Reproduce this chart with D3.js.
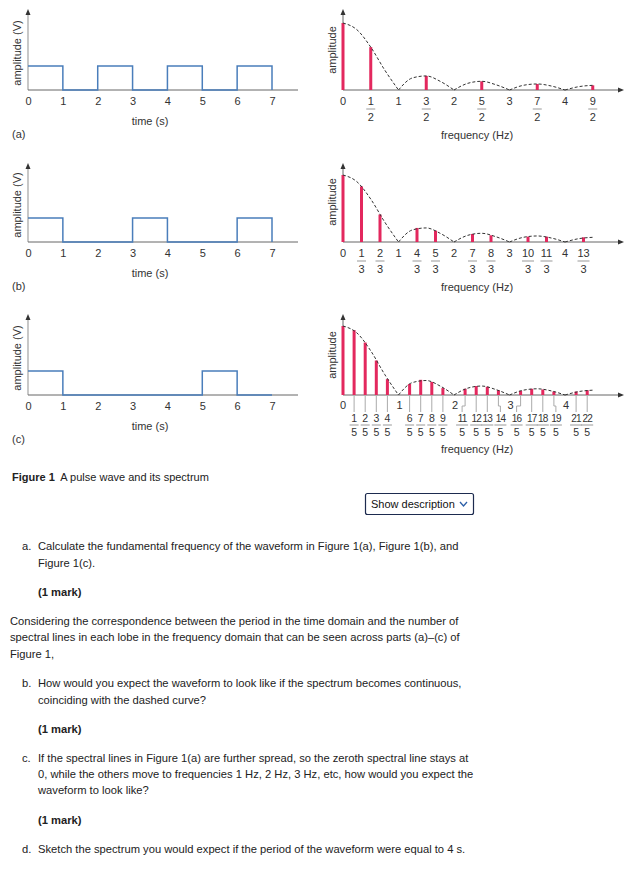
<!DOCTYPE html>
<html>
<head>
<meta charset="utf-8">
<script src="https://cdn.jsdelivr.net/npm/d3@7"></script>
<style>
    body { margin: 0; background: #fff; }
    svg { display: block; font-family: "Liberation Sans", Arial, sans-serif; }
</style>
</head>
<body>
<div id="chart"></div>
<script>
// time domain
const timeTicks = [0, 1, 2, 3, 4, 5, 6, 7];
const waveTimes = [
    [0, 1, 2, 3, 4, 5, 6, 7],
    [0, 1, 3, 4, 6, 7],
    [0, 1, 5, 6, 7],
];
const waveLevels = [
    [1, 0, 1, 0, 1, 0, 1, 0],
    [1, 0, 1, 0, 1, 0],
    [1, 0, 1, 0, 0],
];

// frequency domain: harmonic numbers k, line at k / denom Hz
const freqTicks = [0, 1, 2, 3, 4];
const denoms = [2, 3, 5];
const harmA = [0, 1, 3, 5, 7, 9];
const ampA = [1, 0.64, 0.21, 0.13, 0.09, 0.07];
const harmB = [0, 1, 2, 4, 5, 7, 8, 10, 11, 13];
const ampB = [1, 0.83, 0.41, 0.21, 0.17, 0.12, 0.1, 0.08, 0.08, 0.07];
const harmC = [0, 1, 2, 3, 4, 6, 7, 8, 9, 11, 12, 13, 14, 16, 17, 18, 19, 21, 22];
const ampC = [1, 0.94, 0.76, 0.5, 0.23, 0.16, 0.22, 0.19, 0.1, 0.09, 0.13, 0.12, 0.07, 0.06, 0.09, 0.08, 0.05, 0.05, 0.07];

// dashed envelope
const envFreq = [0, 0.25, 0.5, 0.75, 1, 1.25, 1.5, 1.75, 2, 2.25, 2.5, 2.75, 3, 3.25, 3.5, 3.75, 4, 4.25, 4.5];
const envAmp = [1, 0.9, 0.64, 0.3, 0, 0.18, 0.21, 0.13, 0, 0.1, 0.13, 0.08, 0, 0.07, 0.09, 0.06, 0, 0.05, 0.07];

const panelNames = ["(a)", "(b)", "(c)"];

const colors = {
    wave: "#4a7ebb",
    line: "#e3285e",
    text: "#333",
    axis: "#666",
    light: "#aaa",
};

const W = 636, H = 871;
const rows = [
    { base: 90, top: 9, h: 67 },
    { base: 242, top: 163, h: 67 },
    { base: 395, top: 314, h: 69 },
];
const pulseH = 24;

const svg = d3.select("#chart").append("svg")
    .attr("width", W)
    .attr("height", H);

const xT = d3.scaleLinear().domain([0, 7]).range([28, 272]);
const xF = d3.scaleLinear().domain([0, 4]).range([343, 565]);

const harms = [harmA, harmB, harmC];
const amps = [ampA, ampB, ampC];

// nudges of the crowded labels in (c)
const nudgeC = { 11: -3, 14: 2, 16: -4, 19: 2 };

const arrowUp = (g, x, y) => g.append("path")
    .attr("d", `M${x},${y} L${x - 2.5},${y + 6} L${x + 2.5},${y + 6} Z`)
    .attr("fill", "#333");

rows.forEach((row, i) => {
    const g = svg.append("g");

    // ---------- left: waveform ----------
    const yT = d3.scaleLinear().domain([0, 1]).range([row.base, row.base - pulseH]);

    g.append("line")
        .attr("x1", 28).attr("x2", 28)
        .attr("y1", row.base).attr("y2", row.top + 3)
        .attr("stroke", colors.light).attr("stroke-width", 1.3);
    arrowUp(g, 28, row.top);

    g.append("line")
        .attr("x1", 28).attr("x2", 298)
        .attr("y1", row.base).attr("y2", row.base)
        .attr("stroke", colors.axis);

    const pts = waveTimes[i].map((t, j) => [t, waveLevels[i][j]]);
    g.append("path")
        .datum(pts)
        .attr("d", d3.line().x((d) => xT(d[0])).y((d) => yT(d[1])).curve(d3.curveStepAfter))
        .attr("fill", "none")
        .attr("stroke", colors.wave)
        .attr("stroke-width", 1.5);

    const tAxis = g.append("g")
        .attr("transform", `translate(0,${row.base})`)
        .call(d3.axisBottom(xT).tickValues(timeTicks).tickFormat(d3.format("d")).tickSize(0).tickPadding(7));
    tAxis.select(".domain").remove();
    tAxis.selectAll("text")
        .attr("font-size", 11)
        .attr("font-family", "Liberation Sans, Arial, sans-serif")
        .attr("fill", colors.text);

    g.append("text")
        .attr("x", 150).attr("y", row.base + 35)
        .attr("text-anchor", "middle")
        .attr("font-size", 11).attr("fill", colors.text)
        .text("time (s)");

    g.append("text")
        .attr("transform", `translate(21,${row.base - 37}) rotate(-90)`)
        .attr("text-anchor", "middle")
        .attr("font-size", 11).attr("fill", colors.text)
        .text("amplitude (V)");

    g.append("text")
        .attr("x", 12).attr("y", row.base + 48)
        .attr("font-size", 11).attr("fill", colors.text)
        .text(panelNames[i]);

    // ---------- right: spectrum ----------
    const yF = d3.scaleLinear().domain([0, 1]).range([row.base, row.base - row.h]);
    const d = denoms[i];

    g.append("line")
        .attr("x1", 343).attr("x2", 343)
        .attr("y1", row.base).attr("y2", row.top + 3)
        .attr("stroke", colors.axis);
    arrowUp(g, 343, row.top);

    g.append("line")
        .attr("x1", 343).attr("x2", 618)
        .attr("y1", row.base).attr("y2", row.base)
        .attr("stroke", colors.axis);
    g.append("path")
        .attr("d", `M624,${row.base} L618,${row.base - 2.5} L618,${row.base + 2.5} Z`)
        .attr("fill", "#333");

    const spec = harms[i].map((k, j) => ({ k, f: k / d, a: amps[i][j] }));

    g.selectAll(".bar")
        .data(spec)
        .enter()
        .append("rect")
        .attr("x", (s) => xF(s.f) - 1.5)
        .attr("width", 3)
        .attr("y", (s) => yF(s.a))
        .attr("height", (s) => row.base - yF(s.a))
        .attr("fill", colors.line);

    // envelope, one lobe at a time so the zeros stay sharp
    const env = envFreq.map((f, j) => [f, envAmp[j]]);
    const lobes = [];
    let cur = [];
    env.forEach((p, j) => {
        cur.push(p);
        if (p[1] === 0 && j > 0) {
            lobes.push(cur);
            cur = [p];
        }
    });
    if (cur.length > 1) lobes.push(cur);

    const envLine = d3.line()
        .x((p) => xF(p[0]))
        .y((p) => yF(p[1]))
        .curve(d3.curveMonotoneX);

    g.selectAll(".lobe")
        .data(lobes)
        .enter()
        .append("path")
        .attr("d", envLine)
        .attr("fill", "none")
        .attr("stroke", "#333")
        .attr("stroke-width", 1)
        .attr("stroke-dasharray", "3,2");

    // integer frequency labels
    g.selectAll(".ftick")
        .data(freqTicks)
        .enter()
        .append("text")
        .attr("x", (f) => xF(f) + (i === 2 && f > 0 ? 1 : 0))
        .attr("y", row.base + (i === 2 ? 14 : 15))
        .attr("text-anchor", "middle")
        .attr("font-size", 11).attr("fill", colors.text)
        .text((f) => f);

    // fraction labels
    const fr = spec.filter((s) => s.k > 0);
    const numY = i === 2 ? row.base + 27 : row.base + 14.5;
    const barY = i === 2 ? row.base + 30 : row.base + 19;
    const denY = i === 2 ? row.base + 41 : row.base + 31;
    const fs = i === 2 ? 10.5 : 11;
    const lx = (s) => xF(s.f) + (i === 2 ? (nudgeC[s.k] || 0) : 0);

    if (i === 2) {
        g.selectAll(".leader")
            .data(fr)
            .enter()
            .append("path")
            .attr("d", (s) => {
                const x0 = xF(s.f), x1 = lx(s);
                return x0 === x1
                    ? `M${x0},${row.base + 1} V${row.base + 17}`
                    : `M${x0},${row.base + 1} V${row.base + 11} H${x1} V${row.base + 17}`;
            })
            .attr("fill", "none")
            .attr("stroke", colors.light)
            .attr("stroke-width", 1);
    }

    g.selectAll(".num")
        .data(fr)
        .enter()
        .append("text")
        .attr("x", lx).attr("y", numY)
        .attr("text-anchor", "middle")
        .attr("font-size", (s) => (i === 2 && s.k > 9 ? 10 : fs))
        .attr("fill", colors.text)
        .attr("letter-spacing", (s) => (i === 2 && s.k > 9 ? -0.8 : 0))
        .text((s) => s.k);

    g.selectAll(".fbar")
        .data(fr)
        .enter()
        .append("line")
        .attr("x1", (s) => lx(s) - (s.k > 9 ? 6 : 4.5))
        .attr("x2", (s) => lx(s) + (s.k > 9 ? 6 : 4.5))
        .attr("y1", barY).attr("y2", barY)
        .attr("stroke", "#999").attr("stroke-width", 1);

    g.selectAll(".den")
        .data(fr)
        .enter()
        .append("text")
        .attr("x", lx).attr("y", denY)
        .attr("text-anchor", "middle")
        .attr("font-size", fs).attr("fill", colors.text)
        .text(d);

    g.append("text")
        .attr("x", 477).attr("y", row.base + (i === 2 ? 58 : 49))
        .attr("text-anchor", "middle")
        .attr("font-size", 11).attr("fill", colors.text)
        .text("frequency (Hz)");

    g.append("text")
        .attr("transform", `translate(336,${row.base - 40}) rotate(-90)`)
        .attr("text-anchor", "middle")
        .attr("font-size", 11).attr("fill", colors.text)
        .text("amplitude");
});

// caption
const cap = svg.append("text")
    .attr("x", 12).attr("y", 480.5)
    .attr("font-size", 11).attr("fill", "#222");
cap.append("tspan").attr("font-weight", "bold").text("Figure 1");
cap.append("tspan").text("\u2002A pulse wave and its spectrum");

// button
svg.append("rect")
    .attr("x", 365.5).attr("y", 493.5)
    .attr("width", 108).attr("height", 21)
    .attr("rx", 2)
    .attr("fill", "#fff")
    .attr("stroke", "#1d2b4f").attr("stroke-width", 1.2);
svg.append("text")
    .attr("x", 371).attr("y", 508)
    .attr("font-size", 11).attr("fill", "#111")
    .text("Show description");
svg.append("path")
    .attr("d", "M460,502 L463.5,506 L467,502")
    .attr("fill", "none")
    .attr("stroke", "#2c5fa8").attr("stroke-width", 1.3);

// question text
const lines = [
    { x: 22, y: 549.5, t: "a." },
    { x: 38, y: 549.5, t: "Calculate the fundamental frequency of the waveform in Figure 1(a), Figure 1(b), and" },
    { x: 38, y: 566.5, t: "Figure 1(c)." },
    { x: 38, y: 595.5, t: "(1 mark)", b: true },
    { x: 10, y: 624.5, t: "Considering the correspondence between the period in the time domain and the number of" },
    { x: 10, y: 641, t: "spectral lines in each lobe in the frequency domain that can be seen across parts (a)\u2013(c) of" },
    { x: 10, y: 657.5, t: "Figure 1," },
    { x: 22, y: 687, t: "b." },
    { x: 38, y: 687, t: "How would you expect the waveform to look like if the spectrum becomes continuous," },
    { x: 38, y: 703.5, t: "coinciding with the dashed curve?" },
    { x: 38, y: 732.5, t: "(1 mark)", b: true },
    { x: 22, y: 762, t: "c." },
    { x: 38, y: 762, t: "If the spectral lines in Figure 1(a) are further spread, so the zeroth spectral line stays at" },
    { x: 38, y: 777.5, t: "0, while the others move to frequencies 1 Hz, 2 Hz, 3 Hz, etc, how would you expect the" },
    { x: 38, y: 794, t: "waveform to look like?" },
    { x: 38, y: 823.5, t: "(1 mark)", b: true },
    { x: 22, y: 852.5, t: "d." },
    { x: 38, y: 852.5, t: "Sketch the spectrum you would expect if the period of the waveform were equal to 4 s." },
];

svg.selectAll(".q")
    .data(lines)
    .enter()
    .append("text")
    .attr("x", (l) => l.x)
    .attr("y", (l) => l.y)
    .attr("font-size", 11.2)
    .attr("font-weight", (l) => (l.b ? "bold" : "normal"))
    .attr("fill", "#222")
    .text((l) => l.t);
</script>
</body>
</html>
